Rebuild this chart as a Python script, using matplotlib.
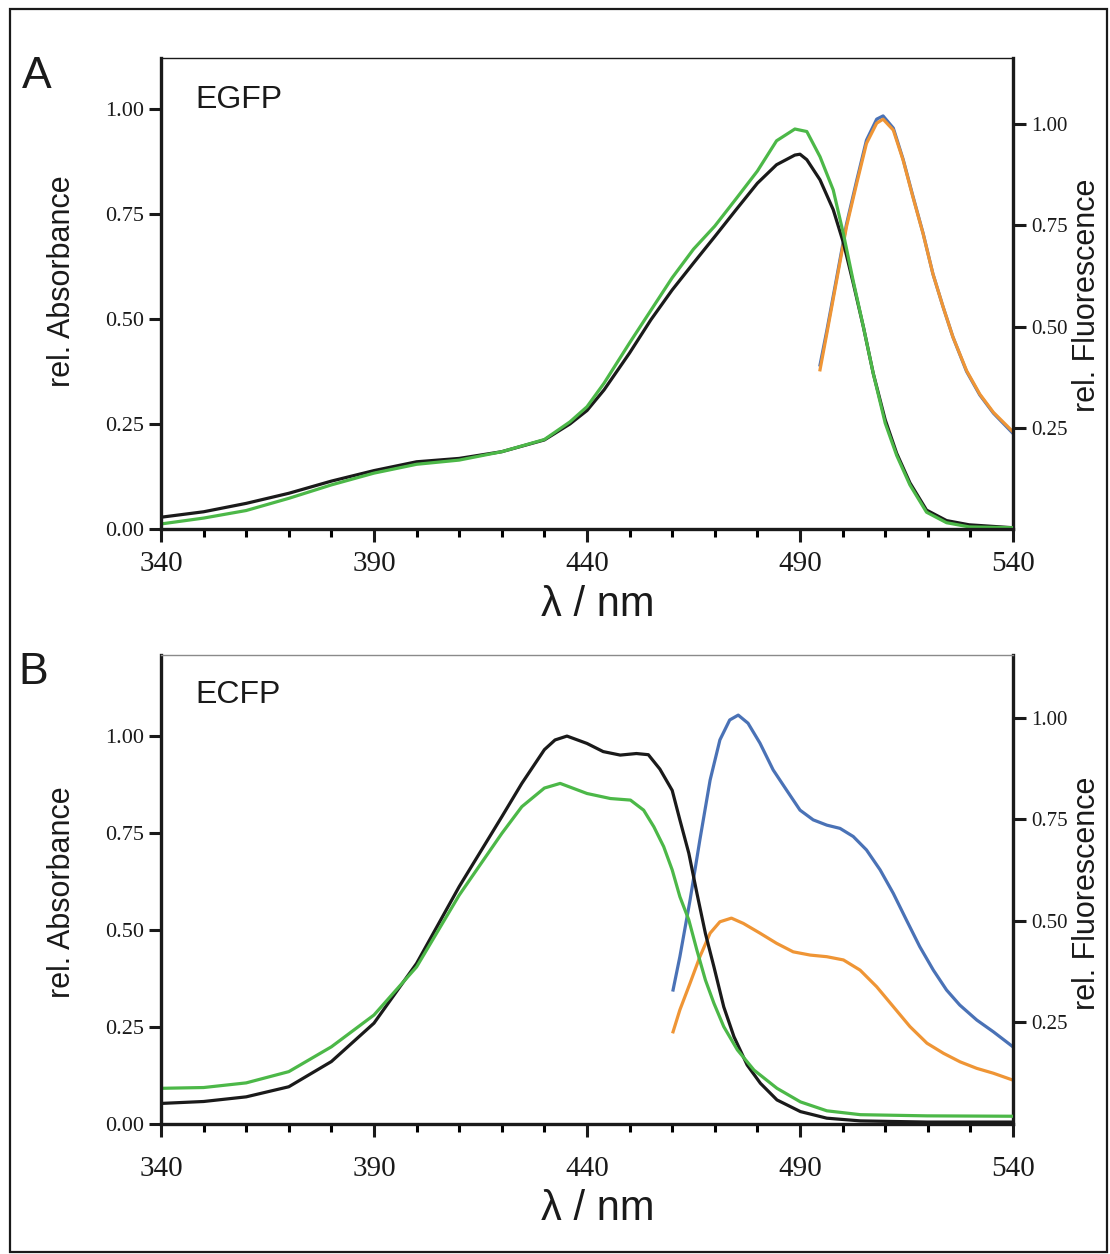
import matplotlib
matplotlib.use('Agg')
import matplotlib.pyplot as plt
import matplotlib.patches as patches
from matplotlib.ticker import MultipleLocator, FixedLocator, FormatStrFormatter

plt.rcParams['font.family'] = ['Liberation Serif', 'DejaVu Serif']
SANS = ['Liberation Sans', 'DejaVu Sans']

# ---- EGFP (panel A) ----
egfp_abs_wl = [340, 350, 360, 370, 380, 390, 400, 410, 420, 430, 436, 440, 444, 450, 455, 460, 465, 470,
               475, 480, 484.5, 488.8, 490, 491.6, 494.7, 497.8, 500.2, 502.5, 504.9, 507.2, 510, 512.7,
               515.8, 519.7, 524.4, 529.7, 540]
egfp_abs_black = [0.028, 0.041, 0.061, 0.085, 0.114, 0.139, 0.160, 0.168, 0.184, 0.212, 0.25, 0.282, 0.331,
                  0.419, 0.498, 0.569, 0.633, 0.696, 0.760, 0.823, 0.867, 0.890, 0.892, 0.879, 0.831, 0.760,
                  0.681, 0.585, 0.48, 0.37, 0.26, 0.18, 0.11, 0.045, 0.02, 0.01, 0.003]
egfp_abs_green_wl = [340, 350, 360, 370, 380, 390, 400, 410, 420, 430, 436, 440, 444, 450, 460, 465, 470,
                     475, 480, 484.5, 488.8, 491.6, 494.7, 497.8, 500.2, 502.5, 504.9, 507.2, 510, 512.7,
                     515.8, 519.7, 524.4, 529.7, 540]
egfp_abs_green = [0.012, 0.026, 0.044, 0.073, 0.105, 0.133, 0.154, 0.164, 0.184, 0.213, 0.255, 0.291, 0.347,
                  0.443, 0.598, 0.666, 0.721, 0.786, 0.852, 0.924, 0.952, 0.946, 0.886, 0.807, 0.702, 0.590,
                  0.48, 0.37, 0.252, 0.175, 0.105, 0.04, 0.015, 0.005, 0.003]
egfp_fl_wl = [494.7, 496.3, 498.6, 500.9, 503.3, 505.6, 508, 509.5, 511.9, 514.2, 516.5, 518.9, 521.2,
              523.6, 525.9, 529.1, 532.2, 535.4, 540]
egfp_fl_blue = [0.405, 0.49, 0.62, 0.752, 0.86, 0.96, 1.012, 1.02, 0.99, 0.913, 0.822, 0.73, 0.63, 0.548,
                0.474, 0.389, 0.331, 0.286, 0.236]
egfp_fl_orange = [0.393, 0.483, 0.614, 0.746, 0.853, 0.952, 1.002, 1.012, 0.985, 0.911, 0.82, 0.729, 0.63,
                  0.548, 0.474, 0.391, 0.333, 0.288, 0.240]

# ---- ECFP (panel B) ----
ecfp_black_wl = [340, 350, 360, 370, 380, 390, 400, 410, 420, 424.7, 430, 432.5, 435.3, 440, 443.8, 447.8,
                 451.6, 454.4, 457.1, 460, 461.8, 463.9, 465.8, 467.8, 469.8, 472.1, 474.5, 477.6, 480.7,
                 484.6, 490.1, 496.3, 504.2, 519.8, 540]
ecfp_abs_black = [0.053, 0.058, 0.070, 0.096, 0.161, 0.260, 0.414, 0.612, 0.792, 0.878, 0.965, 0.99, 1.0,
                  0.981, 0.96, 0.951, 0.955, 0.952, 0.915, 0.86, 0.784, 0.698, 0.595, 0.491, 0.405, 0.302,
                  0.225, 0.152, 0.105, 0.062, 0.032, 0.015, 0.008, 0.005, 0.005]
ecfp_green_wl = [340, 350, 360, 370, 380, 390, 400, 410, 420, 424.7, 430, 433.7, 440, 445.5, 450.2, 453.3,
                 455.7, 458, 460, 461.8, 463.9, 465.8, 467.8, 469.8, 472.1, 475.3, 479.2, 484.6, 490.1,
                 496.3, 504.2, 519.8, 540]
ecfp_abs_green = [0.092, 0.094, 0.106, 0.135, 0.199, 0.281, 0.405, 0.59, 0.749, 0.818, 0.866, 0.878, 0.852,
                  0.839, 0.835, 0.809, 0.766, 0.715, 0.655, 0.586, 0.526, 0.448, 0.371, 0.311, 0.251, 0.191,
                  0.139, 0.092, 0.057, 0.034, 0.024, 0.021, 0.02]
ecfp_blue_wl = [460.2, 461.8, 464.2, 466.5, 468.9, 471.2, 473.5, 475.5, 477.8, 480.6, 483.7, 486.8, 490,
                493.1, 496.3, 499.4, 502.5, 505.6, 508.8, 511.9, 515, 518.1, 521.3, 524.4, 527.5, 531.5,
                535.4, 540]
ecfp_fl_blue = [0.33, 0.412, 0.552, 0.70, 0.847, 0.946, 0.995, 1.007, 0.987, 0.938, 0.872, 0.823, 0.773,
                0.749, 0.736, 0.728, 0.708, 0.675, 0.626, 0.568, 0.502, 0.437, 0.379, 0.33, 0.293, 0.256,
                0.227, 0.19]
ecfp_orange_wl = [460.2, 461.8, 464.2, 466.5, 468.9, 471.2, 473.9, 476.7, 480.6, 484.5, 488.4, 492.4, 496.3,
                  500.2, 504.1, 508, 511.9, 515.8, 519.8, 523.7, 527.6, 531.5, 535.4, 540]
ecfp_fl_orange = [0.227, 0.281, 0.347, 0.412, 0.47, 0.498, 0.507, 0.494, 0.47, 0.445, 0.424, 0.416, 0.412,
                  0.404, 0.379, 0.338, 0.289, 0.24, 0.199, 0.174, 0.153, 0.137, 0.125, 0.108]

x_ticks = [340, 390, 440, 490, 540]
left_ticks = [0.0, 0.25, 0.5, 0.75, 1.0]
right_ticks = [0.25, 0.5, 0.75, 1.0]

BLACK = '#1a1a1a'
GREEN = '#4cb848'
BLUE = '#4a72b6'
ORANGE = '#ef9535'
LW = 2.3

W, H = 1110, 1254
fig = plt.figure(figsize=(W / 100, H / 100), dpi=100)
fig.patch.set_facecolor('white')


def px_box(left, top, right, bottom):
    return [left / W, 1 - bottom / H, (right - left) / W, (bottom - top) / H]


def setup(ax, ax2, ylim_left, ylim_right, top_color, xpad):
    ax.set_xlim(340, 540)
    ax.set_ylim(*ylim_left)
    ax2.set_ylim(*ylim_right)
    ax.xaxis.set_major_locator(FixedLocator(x_ticks))
    ax.xaxis.set_minor_locator(MultipleLocator(10))
    ax.yaxis.set_major_locator(FixedLocator(left_ticks))
    ax.yaxis.set_major_formatter(FormatStrFormatter('%.2f'))
    ax2.yaxis.set_major_locator(FixedLocator(right_ticks))
    ax2.yaxis.set_major_formatter(FormatStrFormatter('%.2f'))
    ax.tick_params(axis='x', which='major', direction='out', length=9, width=2.2, labelsize=21, pad=xpad,
                   colors=BLACK)
    ax.tick_params(axis='x', which='minor', direction='out', length=6, width=2.2)
    ax.tick_params(axis='y', direction='out', length=9, width=2.2, labelsize=16, pad=3, colors=BLACK)
    ax2.tick_params(axis='y', direction='out', length=9, width=2.2, labelsize=15, pad=4, colors=BLACK)
    for s in ['left', 'bottom']:
        ax.spines[s].set_linewidth(2.4)
        ax.spines[s].set_color(BLACK)
    ax.spines['right'].set_visible(False)
    ax.spines['top'].set_linewidth(1.0)
    ax.spines['top'].set_color(top_color)
    for s in ['left', 'bottom', 'top']:
        ax2.spines[s].set_visible(False)
    ax2.spines['right'].set_linewidth(2.4)
    ax2.spines['right'].set_color(BLACK)
    ax.set_zorder(ax2.get_zorder() + 1)
    ax.patch.set_visible(False)


# Panel A
axA = fig.add_axes(px_box(161, 58, 1013, 529))
axA2 = axA.twinx()
setup(axA, axA2, (0, 1.121), (0, 1.163), BLACK, 7)
axA2.plot(egfp_fl_wl, egfp_fl_blue, color=BLUE, lw=LW)
axA2.plot(egfp_fl_wl, egfp_fl_orange, color=ORANGE, lw=LW)
axA.plot(egfp_abs_wl, egfp_abs_black, color=BLACK, lw=LW)
axA.plot(egfp_abs_green_wl, egfp_abs_green, color=GREEN, lw=LW)

# Panel B
axB = fig.add_axes(px_box(161, 655, 1013, 1124))
axB2 = axB.twinx()
setup(axB, axB2, (0, 1.209), (0, 1.155), '#8a8a8a', 14)
axB2.plot(ecfp_blue_wl, ecfp_fl_blue, color=BLUE, lw=LW)
axB2.plot(ecfp_orange_wl, ecfp_fl_orange, color=ORANGE, lw=LW)
axB.plot(ecfp_black_wl, ecfp_abs_black, color=BLACK, lw=LW)
axB.plot(ecfp_green_wl, ecfp_abs_green, color=GREEN, lw=LW)


def ftext(x, y, s, **kw):
    fig.text(x / W, 1 - y / H, s, family=SANS, color=BLACK, **kw)


ftext(22, 77, 'A', fontsize=32, ha='left', va='center')
ftext(18, 673, 'B', fontsize=32, ha='left', va='center')
ftext(195, 100, 'EGFP', fontsize=23, ha='left', va='center')
ftext(195, 695, 'ECFP', fontsize=23, ha='left', va='center')
ftext(62, 281, 'rel. Absorbance', fontsize=22, rotation=90, ha='center', va='center')
ftext(62, 892, 'rel. Absorbance', fontsize=22, rotation=90, ha='center', va='center')
ftext(1087, 295, 'rel. Fluorescence', fontsize=22, rotation=90, ha='center', va='center')
ftext(1087, 893, 'rel. Fluorescence', fontsize=22, rotation=90, ha='center', va='center')
ftext(598, 605, 'λ / nm', fontsize=30, ha='center', va='center')
ftext(598, 1209, 'λ / nm', fontsize=30, ha='center', va='center')

# outer frame
fig.add_artist(patches.Rectangle((10 / W, 2 / H), 1097 / W, 1243 / H, transform=fig.transFigure,
                                 fill=False, edgecolor=BLACK, linewidth=1.6))

fig.savefig('out.png', dpi=100)
